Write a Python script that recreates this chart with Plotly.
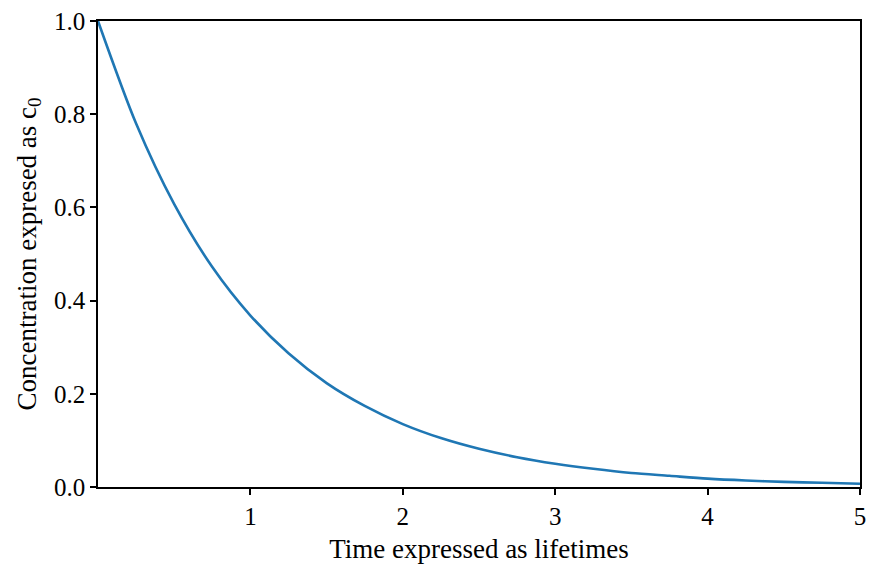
import plotly.graph_objects as go

# Values
time_lifetimes = [0.0, 0.25, 0.5, 0.75, 1.0, 1.25, 1.5, 1.75, 2.0, 2.25, 2.5, 2.75,
                  3.0, 3.25, 3.5, 3.75, 4.0, 4.25, 4.5, 4.75, 5.0]
concentration = [1.0, 0.78, 0.607, 0.472, 0.368, 0.287, 0.223, 0.174, 0.135, 0.105,
                  0.082, 0.064, 0.050, 0.039, 0.030, 0.024, 0.018, 0.014, 0.011, 0.009, 0.007]

x_ticks = [1, 2, 3, 4, 5]
y_ticks = [0.0, 0.2, 0.4, 0.6, 0.8, 1.0]
y_labels = ["0.0", "0.2", "0.4", "0.6", "0.8", "1.0"]

font_family = "Liberation Serif, Times New Roman, serif"

fig = go.Figure()
fig.add_trace(go.Scatter(
    x=time_lifetimes, y=concentration, mode="lines",
    line=dict(color="#1f77b4", width=2.6, shape="spline", smoothing=0.8),
    showlegend=False, hoverinfo="skip",
))

axis_common = dict(
    showgrid=False, zeroline=False, showline=True, mirror=True,
    linecolor="black", linewidth=1.6,
    ticks="outside", ticklen=6, tickwidth=1.6, tickcolor="black",
    tickfont=dict(family=font_family, size=25, color="black"),
    automargin=False,
)

fig.update_layout(
    width=869, height=564,
    margin=dict(l=98, r=9, t=21, b=77),
    paper_bgcolor="white", plot_bgcolor="white",
    font=dict(family=font_family, size=25, color="black"),
    xaxis=dict(range=[0, 5], tickvals=x_ticks, ticktext=[str(v) for v in x_ticks],
               title=dict(text="Time expressed as lifetimes",
                          font=dict(family=font_family, size=27), standoff=10),
               **axis_common),
    yaxis=dict(range=[0, 1], tickvals=y_ticks, ticktext=y_labels,
               title=dict(text="Concentration expresed as c<sub>0</sub>",
                          font=dict(family=font_family, size=27), standoff=10),
               **axis_common),
)

fig.write_html("out.html")
